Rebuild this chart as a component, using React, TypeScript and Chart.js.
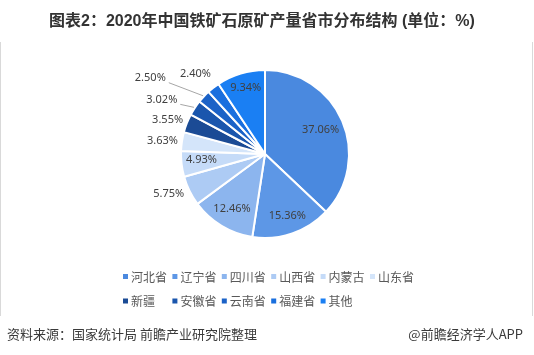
import React, { useEffect, useRef } from "react";
import { Chart, registerables } from "chart.js";

Chart.register(...registerables);

const TITLE = "图表2：2020年中国铁矿石原矿产量省市分布结构 (单位：%)";
const SOURCE_LEFT = "资料来源：国家统计局 前瞻产业研究院整理";
const SOURCE_RIGHT = "@前瞻经济学人APP";

const categories = ["河北省", "辽宁省", "四川省", "山西省", "内蒙古", "山东省", "新疆", "安徽省", "云南省", "福建省", "其他"];
const shares = [37.06, 15.36, 12.46, 5.75, 4.93, 3.63, 3.55, 3.02, 2.5, 2.4, 9.34];
const valueLabels = ["37.06%", "15.36%", "12.46%", "5.75%", "4.93%", "3.63%", "3.55%", "3.02%", "2.50%", "2.40%", "9.34%"];

const colors = ["#4a89df", "#5d97e6", "#8cb5ee", "#adcbf4", "#c5dbf8", "#d4e5fa", "#1b4b95", "#1a56ad", "#1b62c7", "#1a6fde", "#1a7ff3"];

// label placement style: radius factor, angle shift (deg), leader line
const labelStyle = [
  { f: 0.72, s: 0, lead: false },
  { f: 0.78, s: -1, lead: false },
  { f: 0.76, s: 0, lead: false },
  { f: 1.24, s: 3.8, lead: false },
  { f: 0.76, s: 1.5, lead: false },
  { f: 1.23, s: -1.3, lead: false },
  { f: 1.23, s: -2, lead: false },
  { f: 1.39, s: -5.4, lead: true },
  { f: 1.64, s: -9.6, lead: true },
  { f: 1.26, s: -3.1, lead: false },
  { f: 0.82, s: 0.5, lead: false },
];

const labelPlugin = {
  id: "sliceLabels",
  afterDatasetsDraw(chart: any) {
    const ctx = chart.ctx;
    const meta = chart.getDatasetMeta(0);
    ctx.save();
    ctx.font = "11px 'Noto Sans', 'DejaVu Sans', sans-serif";
    ctx.fillStyle = "#404040";
    ctx.textAlign = "center";
    ctx.textBaseline = "middle";
    meta.data.forEach((arc: any, i: number) => {
      const p = arc.getProps(["x", "y", "startAngle", "endAngle", "outerRadius"], true);
      const st = labelStyle[i];
      const mid = (p.startAngle + p.endAngle) / 2;
      const a = mid + (st.s * Math.PI) / 180;
      const lx = p.x + Math.cos(a) * p.outerRadius * st.f;
      const ly = p.y + Math.sin(a) * p.outerRadius * st.f;
      const text = valueLabels[i];
      if (st.lead) {
        const w = ctx.measureText(text).width;
        const ex = p.x + Math.cos(mid) * (p.outerRadius + 1);
        const ey = p.y + Math.sin(mid) * (p.outerRadius + 1);
        ctx.save();
        ctx.strokeStyle = "#a6a6a6";
        ctx.lineWidth = 1;
        ctx.beginPath();
        ctx.moveTo(lx + w / 2 + 3, ly + 5);
        ctx.lineTo(ex, ey);
        ctx.stroke();
        ctx.restore();
      }
      ctx.fillText(text, lx, ly);
    });
    ctx.restore();
  },
};

const framePlugin = {
  id: "frameText",
  afterDraw(chart: any) {
    const ctx = chart.ctx;
    ctx.save();
    // side borders
    ctx.strokeStyle = "#d9d9d9";
    ctx.lineWidth = 1;
    ctx.beginPath();
    ctx.moveTo(0.5, 42);
    ctx.lineTo(0.5, 316);
    ctx.moveTo(532.5, 42);
    ctx.lineTo(532.5, 316);
    ctx.stroke();
    // title
    ctx.fillStyle = "#333333";
    ctx.textBaseline = "middle";
    ctx.textAlign = "left";
    ctx.font = "bold 16px 'Liberation Sans', 'Noto Sans CJK SC', sans-serif";
    ctx.fillText(TITLE, 49, 22);
    // footer
    ctx.font = "13px 'Noto Sans CJK SC', sans-serif";
    ctx.fillStyle = "#3a3a3a";
    ctx.fillText(SOURCE_LEFT, 7, 334);
    ctx.textAlign = "right";
    ctx.fillText(SOURCE_RIGHT, 523, 334);
    // legend grid
    const labels = chart.data.labels as string[];
    const bg = chart.data.datasets[0].backgroundColor as string[];
    ctx.textAlign = "left";
    ctx.font = "12px 'Noto Sans CJK SC', sans-serif";
    const perRow = 6;
    labels.forEach((lab, i) => {
      const col = i % perRow;
      const row = Math.floor(i / perRow);
      const x = 123 + col * 49.4;
      const y = 276.5 + row * 24.5;
      ctx.fillStyle = bg[i];
      ctx.fillRect(x, y - 2.5, 5, 5);
      ctx.fillStyle = "#595959";
      ctx.fillText(lab, x + 8, y + 0.5);
    });
    ctx.restore();
  },
};

export default function App() {
  const ref = useRef<HTMLCanvasElement>(null);
  useEffect(() => {
    if (!ref.current) return;
    const chart = new Chart(ref.current, {
      type: "pie",
      data: {
        labels: categories,
        datasets: [
          {
            data: shares,
            backgroundColor: colors,
            borderColor: "#ffffff",
            borderWidth: 2,
          },
        ],
      },
      options: {
        responsive: false,
        maintainAspectRatio: false,
        devicePixelRatio: 1,
        animation: false,
        layout: { padding: { left: 100, right: 104, top: 69, bottom: 116 } },
        plugins: {
          legend: { display: false },
          tooltip: { enabled: false },
          title: { display: false },
        },
      },
      plugins: [labelPlugin, framePlugin],
    });
    return () => chart.destroy();
  }, []);
  return (
    <div style={{ position: "absolute", left: 0, top: 0, width: 534, height: 355, background: "#fff" }}>
      <canvas ref={ref} width={534} height={355} style={{ display: "block" }} />
    </div>
  );
}
